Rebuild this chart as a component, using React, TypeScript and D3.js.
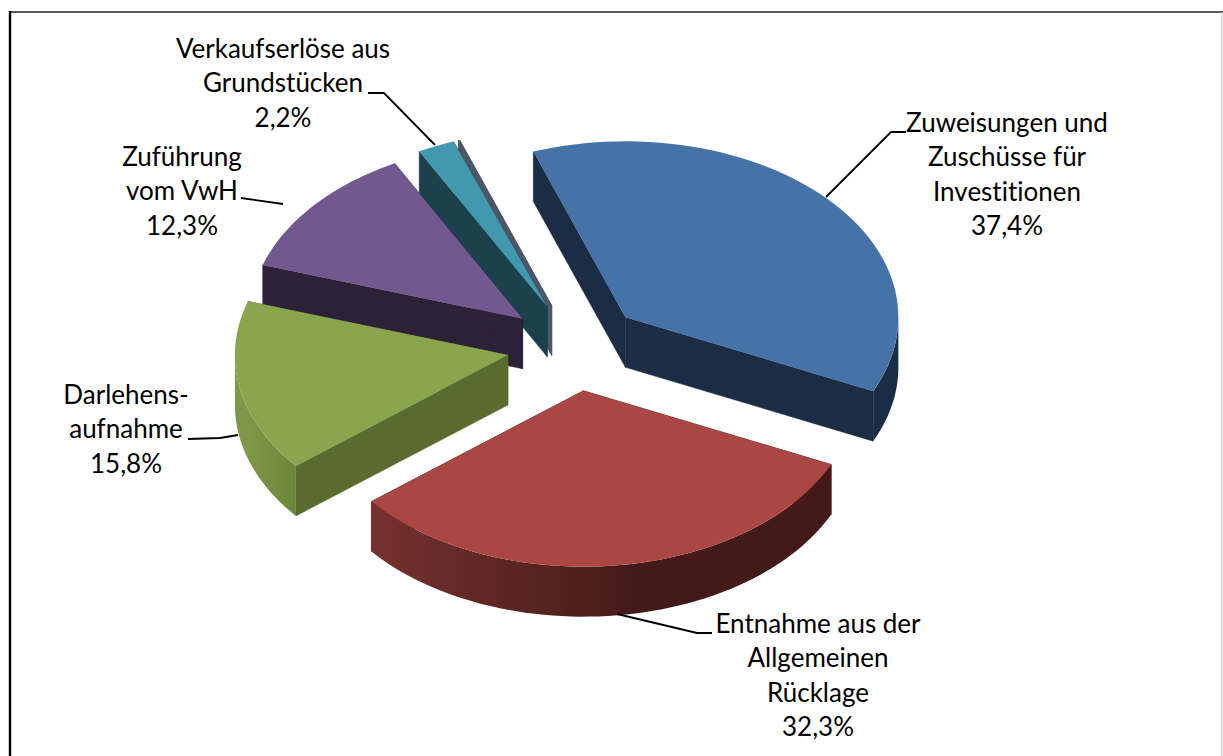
import React from "react";
import * as d3 from "d3";

const width = 1223;
const height = 756;

// last entry is a nearly empty, unlabelled category that shows as a thin grey sliver
const categories = ["Zuweisungen", "Entnahme", "Darlehen", "Zuführung", "Verkauf", "Rest"];
const shares = [37.4, 32.3, 15.8, 12.3, 2.2, 0.1];
const topColors = ["#4573a7", "#aa4643", "#89a54e", "#71588f", "#4198af", "#4d5567"];
const wallColors = ["#1a2d45", "#431a18", "#5a6b30", "#2d2137", "#1a414c", "#4d5567"];
const rimStops = [
  ["#1a2d45", "#1a2d45"],
  ["#833734", "#431a18"],
  ["#7f9748", "#6c8539"],
  ["#2d2137", "#2d2137"],
  ["#1a414c", "#1a414c"],
  ["#4d5567", "#4d5567"],
];
const drawOrder = [5, 4, 3, 2, 0, 1];

const labelLines = [
  ["Zuweisungen und", "Zuschüsse für", "Investitionen", "37,4%"],
  ["Entnahme aus der", "Allgemeinen", "Rücklage", "32,3%"],
  ["Darlehens-", "aufnahme", "15,8%"],
  ["Zuführung", "vom VwH", "12,3%"],
  ["Verkaufserlöse aus", "Grundstücken", "2,2%"],
];
const labelAnchors = [
  [1007, 132],
  [818, 633],
  [126, 404],
  [182, 166],
  [283, 58],
];
const leaders = [
  [[826, 197], [891, 132], [906, 132]],
  [[617, 614], [697, 633], [712, 633]],
  [[188, 439], [220, 438], [238, 435]],
  [[241, 198], [283, 204]],
  [[368, 93], [384, 93], [435, 145]],
];

const cx = 575;
const cy = 347;
const rx = 273;
const ry = 176;
const depth = 50;
const explode = 0.25;
const lineStep = 34.3;
const deg = Math.PI / 180;

const px = d3.scaleLinear().domain([-1, 1]).range([cx - rx, cx + rx]);
const py = d3.scaleLinear().domain([-1, 1]).range([cy + ry, cy - ry]);

const pie = d3
  .pie<number>()
  .sort(null)
  .startAngle(-19.7 * deg)
  .endAngle(340.3 * deg);

const line = d3.line();

// point on the pie plane: angle clockwise from 12 o'clock, r in radii
const plane = (a: number, r: number, mid: number, drop = 0): [number, number] => [
  px(r * Math.sin(a) + explode * Math.sin(mid)),
  py(r * Math.cos(a) + explode * Math.cos(mid)) + drop,
];

const arcPoints = (a0: number, a1: number, mid: number, drop = 0) =>
  d3.range(0, 61).map((i) => plane(a0 + ((a1 - a0) * i) / 60, 1, mid, drop));

export default function App() {
  const arcs = pie(shares);

  return (
    <svg
      width={width}
      height={height}
      style={{ position: "absolute", left: 0, top: 0, background: "#fff" }}
    >
      <defs>
        {arcs.map((d, i) => {
          const mid = (d.startAngle + d.endAngle) / 2;
          return (
            <linearGradient
              key={categories[i]}
              id={`rim-${i}`}
              gradientUnits="userSpaceOnUse"
              x1={plane(d.startAngle, 1, mid)[0] > px(0) ? px(-1) : plane(Math.max(d.startAngle, d.endAngle), 1, mid)[0]}
              x2={i === 1 ? px(0.25) : plane(d.startAngle, 1, mid)[0]}
              y1={0}
              y2={0}
            >
              <stop offset="0" stopColor={rimStops[i][0]} />
              <stop offset="1" stopColor={rimStops[i][1]} />
            </linearGradient>
          );
        })}
      </defs>

      {drawOrder.map((i) => {
        const d = arcs[i];
        const mid = (d.startAngle + d.endAngle) / 2;
        const apex = plane(0, 0, mid);
        const apexLow = plane(0, 0, mid, depth);
        const rimFrom = Math.max(d.startAngle, 90 * deg);
        const rimTo = Math.min(d.endAngle, 270 * deg);
        const hasRim = rimTo > rimFrom;
        const wall = [d.startAngle, d.endAngle].map((a) =>
          line([apex, plane(a, 1, mid), plane(a, 1, mid, depth), apexLow]) + "Z"
        );
        return (
          <g key={categories[i]}>
            {wall.map((w, j) => (
              <path key={j} d={w} fill={wallColors[i]} stroke={wallColors[i]} strokeWidth={0.5} />
            ))}
            {hasRim && (
              <path
                d={
                  line([
                    ...arcPoints(rimFrom, rimTo, mid),
                    ...arcPoints(rimTo, rimFrom, mid, depth),
                  ]) + "Z"
                }
                fill={`url(#rim-${i})`}
              />
            )}
            <path
              d={line([apex, ...arcPoints(d.startAngle, d.endAngle, mid)]) + "Z"}
              fill={topColors[i]}
            />
          </g>
        );
      })}

      {leaders.map((pts, i) => (
        <path
          key={i}
          d={line(pts as [number, number][]) as string}
          fill="none"
          stroke="#000"
          strokeWidth={1.8}
        />
      ))}

      {labelLines.map((lines, i) => (
        <text
          key={i}
          textAnchor="middle"
          fontFamily="Lato, 'Open Sans', sans-serif"
          fontSize={26}
          fill="#000"
          style={{ fontVariantLigatures: "none" }}
        >
          {lines.map((t, j) => (
            <tspan key={j} x={labelAnchors[i][0]} y={labelAnchors[i][1] + j * lineStep}>
              {t}
            </tspan>
          ))}
        </text>
      ))}

      <line x1={9} x2={1223} y1={12} y2={12} stroke="#222" strokeWidth={1.6} />
      <line x1={10} x2={10} y1={11} y2={756} stroke="#000" strokeWidth={2.4} />
      <line x1={1222} x2={1222} y1={12} y2={756} stroke="#c4c4c4" strokeWidth={1.2} />
    </svg>
  );
}
